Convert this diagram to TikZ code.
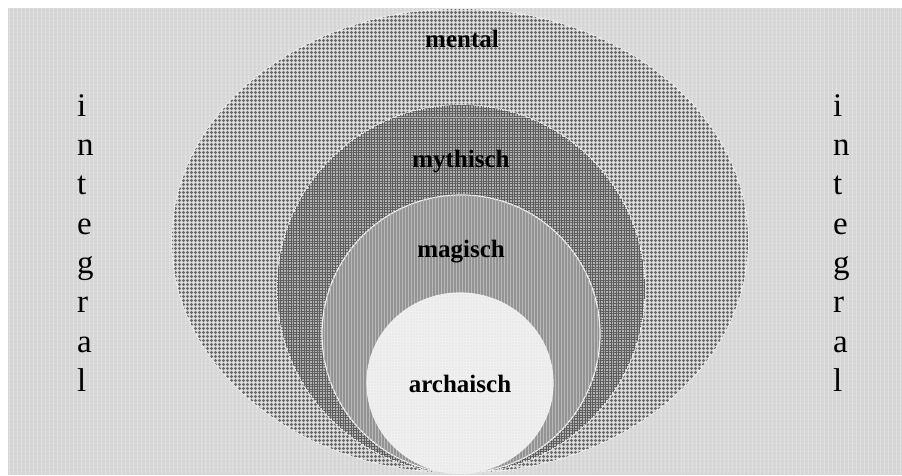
\documentclass[tikz,border=0pt]{standalone}
\usepackage{fontspec}
\setmainfont{Liberation Serif}
\usetikzlibrary{patterns.meta}
\tikzset{
    zone/.style={draw=white!88!gray, line width=1.2pt},
    backdrop/.style={fill=black!16, postaction={pattern={Lines[angle=90, distance=4pt, line width=0.8pt]}, pattern color=white!85!gray}},
    mentalzone/.style={zone, fill=black!12, postaction={pattern={Hatch[distance=4pt, line width=1.6pt]}, pattern color=black!58}},
    mythzone/.style={zone, fill=black!30, postaction={pattern={Hatch[distance=2.6pt, line width=0.9pt]}, pattern color=black!64}},
    magiczone/.style={zone, fill=black!42, postaction={pattern={Lines[angle=90, distance=3pt, line width=0.6pt]}, pattern color=black!28}},
    archzone/.style={zone, fill=black!6, postaction={pattern={Dots[distance=3pt, radius=0.45pt]}, pattern color=black!30}},
    zonelabel/.style={font=\fontsize{25}{30}\selectfont\bfseries, anchor=base},
    sideletter/.style={font=\fontsize{33}{39}\selectfont, anchor=base west, inner sep=0pt},
    common settings/.style={x=1pt, y=-1pt}
}

\begin{document}
\begin{tikzpicture}[common settings]

    \def\cx{461}    % common centre line
    \def\by{473}    % common bottom point

    \useasboundingbox (0,0) rectangle (902,475);
    \clip (0,0) rectangle (902,475);

    % Background
    \path[backdrop] (8,8) rectangle (902,475);

    % Nested zones, all touching at the bottom
    \draw[mentalzone] (\cx-1,\by-232) ellipse [x radius=288, y radius=232];
    \draw[mythzone] (\cx,\by-184) ellipse [x radius=184, y radius=184];
    \draw[magiczone] (\cx,\by-139) ellipse [x radius=139, y radius=139];
    \draw[archzone] (\cx-1,\by-90) ellipse [x radius=93, y radius=90];

    % Zone labels
    \node[zonelabel] (mental) at (462,47) {mental};
    \node[zonelabel] (mythisch) at (461,167) {mythisch};
    \node[zonelabel] (magisch) at (461,257) {magisch};
    \node[zonelabel] (archaisch) at (460,392) {archaisch};

    % integral, written downwards on both sides
    \foreach \ch [count=\k] in {i,n,t,e,g,r,a,l} {
        \node[sideletter] (lint\k) at (77,{77+39.3*\k}) {\ch};
        \node[sideletter] (rint\k) at (833,{77+39.3*\k}) {\ch};
    }

\end{tikzpicture}
\end{document}
